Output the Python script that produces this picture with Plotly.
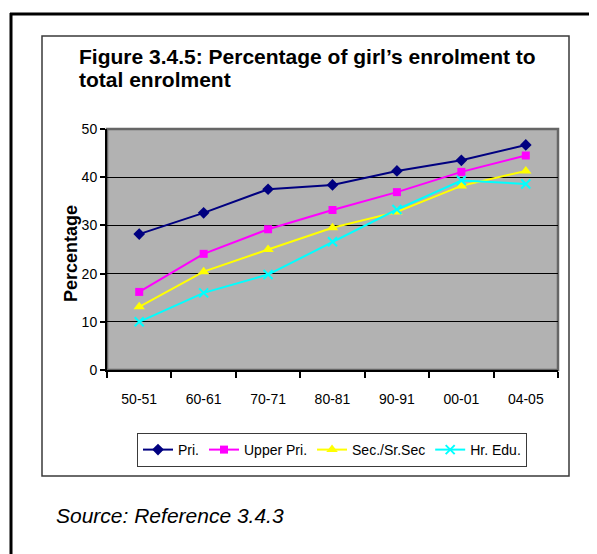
import plotly.graph_objects as go

years = ["50-51", "60-61", "70-71", "80-81", "90-91", "00-01", "04-05"]
pri = [28.2, 32.6, 37.5, 38.4, 41.3, 43.5, 46.7]
upper_pri = [16.2, 24.1, 29.2, 33.2, 36.9, 41.1, 44.5]
sec = [13.1, 20.4, 25.0, 29.5, 32.8, 38.2, 41.3]
hr_edu = [10.0, 16.0, 19.8, 26.6, 33.3, 39.3, 38.6]
y_ticks = [0, 10, 20, 30, 40, 50]

# page body adds an 8px margin; the figure is shrunk/shifted to compensate
OFF = 8
W, H = 597 - OFF, 554 - OFF
L, R, T, B = 107, 558, 129, 370  # plot area in page pixels

def px(x):
    return (x - L) / (R - L)

def py(y):
    return (B - y) / (B - T)

ARIAL = "Liberation Sans, Arial, sans-serif"

series = [
    ("Pri.", pri, "#000080", "diamond", 9),
    ("Upper Pri.", upper_pri, "#FF00FF", "square", 8),
    ("Sec./Sr.Sec", sec, "#FFFF00", "triangle-up", 10),
    ("Hr. Edu.", hr_edu, "#00FFFF", "x-thin", 9),
]

fig = go.Figure()
for name, vals, col, sym, sz in series:
    fig.add_trace(go.Scatter(
        x=years, y=vals, name=name, mode="lines+markers",
        line=dict(color=col, width=2),
        marker=dict(symbol=sym, size=sz, color=col,
                    line=dict(color=col, width=2 if sym == "x-thin" else 0)),
    ))

shapes = [
    # outer frame (left and top visible)
    dict(type="line", xref="paper", yref="paper", x0=px(11), x1=px(11), y0=py(13), y1=py(570),
         line=dict(color="black", width=3)),
    dict(type="line", xref="paper", yref="paper", x0=px(10), x1=px(620), y0=py(14), y1=py(14),
         line=dict(color="black", width=3)),
    # inner chart box
    dict(type="rect", xref="paper", yref="paper", x0=px(42), x1=px(569), y0=py(36), y1=py(476),
         line=dict(color="#3a3a3a", width=1.5), layer="below"),
    # plot area border
    dict(type="rect", xref="paper", yref="paper", x0=0, x1=1, y0=0, y1=1,
         line=dict(color="#666666", width=2.5), layer="below"),
]

annotations = [
    dict(text="<b>Figure 3.4.5: Percentage of girl’s enrolment to</b>", xref="paper", yref="paper",
         x=px(77), y=py(56.5), xanchor="left", yanchor="middle", showarrow=False,
         font=dict(family=ARIAL, size=21, color="black")),
    dict(text="<b>total enrolment</b>", xref="paper", yref="paper",
         x=px(77), y=py(79), xanchor="left", yanchor="middle", showarrow=False,
         font=dict(family=ARIAL, size=21, color="black")),
    dict(text="<b>Percentage</b>", xref="paper", yref="paper",
         x=px(71), y=py(254), xanchor="center", yanchor="middle", textangle=-90, showarrow=False,
         font=dict(family=ARIAL, size=18, color="black")),
    dict(text="<i>Source: Reference 3.4.3</i>", xref="paper", yref="paper",
         x=px(54), y=py(515), xanchor="left", yanchor="middle", showarrow=False,
         font=dict(family=ARIAL, size=21, color="black")),
]

fig.update_layout(
    width=W, height=H,
    margin=dict(l=L - OFF, r=W - (R - OFF), t=T - OFF, b=H - (B - OFF), pad=0),
    paper_bgcolor="white",
    plot_bgcolor="#b2b2b2",
    shapes=shapes,
    annotations=annotations,
    showlegend=True,
    legend=dict(
        orientation="h", x=px(332), xanchor="center", y=py(433), yanchor="top",
        bordercolor="#3a3a3a", borderwidth=1, bgcolor="white",
        font=dict(family=ARIAL, size=14, color="black"),
        itemwidth=30, tracegroupgap=0,
    ),
    xaxis=dict(
        type="category", categoryorder="array", categoryarray=years,
        tickson="boundaries", ticks="outside", ticklen=6, tickcolor="black", tickwidth=1.5,
        showline=True, linecolor="black", linewidth=2, showgrid=False,
        tickfont=dict(family=ARIAL, size=14, color="black"),
        ticklabelstandoff=15, range=[-0.5, 6.5],
    ),
    yaxis=dict(
        range=[0, 50], tickvals=y_ticks, ticks="outside", ticklen=5, tickcolor="black", tickwidth=1.5,
        showline=True, linecolor="black", linewidth=2,
        showgrid=True, gridcolor="black", gridwidth=1, zeroline=False,
        tickfont=dict(family=ARIAL, size=14, color="black"),
    ),
)

fig.write_html("out.html")
